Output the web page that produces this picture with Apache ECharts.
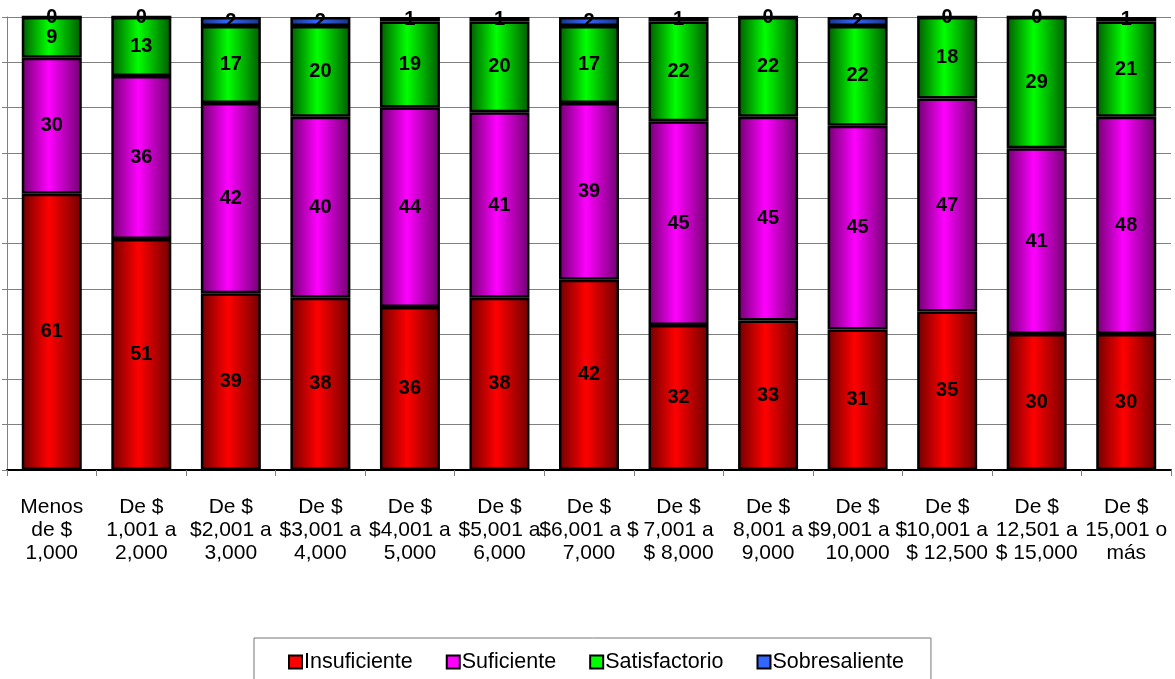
<!DOCTYPE html>
<html>
<head>
<meta charset="utf-8">
<script src="https://cdn.jsdelivr.net/npm/echarts@6/dist/echarts.min.js"></script>
<style>
    html, body { margin: 0; padding: 0; background: #fff; }
    #main { width: 1175px; height: 679px; }
</style>
</head>
<body>
<div id="main"></div>
<script>
    // 分类标签
    const categories = [
        'Menos\nde $\n1,000', 'De $\n1,001 a\n2,000', 'De $\n$2,001 a\n3,000', 'De $\n$3,001 a\n4,000',
        'De $\n$4,001 a\n5,000', 'De $\n$5,001 a\n6,000', 'De $\n$6,001 a $\n7,000', 'De $\n7,001 a\n$ 8,000',
        'De $\n8,001 a\n9,000', 'De $\n$9,001 a $\n10,000', 'De $\n10,001 a\n$ 12,500', 'De $\n12,501 a\n$ 15,000',
        'De $\n15,001 o\nmás'
    ];
    // 各系列数据
    const insuficiente = [61, 51, 39, 38, 36, 38, 42, 32, 33, 31, 35, 30, 30];
    const suficiente = [30, 36, 42, 40, 44, 41, 39, 45, 45, 45, 47, 41, 48];
    const satisfactorio = [9, 13, 17, 20, 19, 20, 17, 22, 22, 22, 18, 29, 21];
    const sobresaliente = [0, 0, 2, 2, 1, 1, 2, 1, 0, 2, 0, 0, 1];
    const seriesNames = ['Insuficiente', 'Suficiente', 'Satisfactorio', 'Sobresaliente'];
    const seriesColors = [
        ['#700000', '#ff0000'],
        ['#700070', '#ff00ff'],
        ['#005a00', '#00ff00'],
        ['#1a3380', '#3366ff']
    ];

    // 横向渐变
    function gradient(pair) {
        return new echarts.graphic.LinearGradient(0, 0, 1, 0, [
            { offset: 0, color: pair[0] },
            { offset: 0.45, color: pair[1] },
            { offset: 1, color: pair[0] }
        ]);
    }

    function makeSeries(name, data, idx) {
        return {
            name: name,
            type: 'bar',
            stack: 'total',
            barWidth: 60,
            data: data,
            itemStyle: {
                color: gradient(seriesColors[idx]),
                borderColor: '#000',
                borderWidth: 2.5
            },
            label: {
                show: true,
                position: 'inside',
                color: '#000',
                fontFamily: 'Arial, Liberation Sans',
                fontWeight: 'bold',
                fontSize: 20
            }
        };
    }

    const allData = [insuficiente, suficiente, satisfactorio, sobresaliente];
    let myChart = echarts.init(document.getElementById('main'));
    myChart.setOption({
        animation: false,
        grid: { left: 7, right: 4, top: 17, bottom: 209 },
        legend: {
            data: seriesNames.map(function(n, i) {
                return { name: n, itemStyle: { color: seriesColors[i][1], borderColor: '#000', borderWidth: 2 } };
            }),
            left: 254,
            top: 638,
            padding: [13, 27, 20, 34],
            borderColor: '#777',
            borderWidth: 1,
            itemGap: 33,
            itemWidth: 13,
            itemHeight: 13,
            icon: 'rect',
            textStyle: { fontFamily: 'Arial, Liberation Sans', fontSize: 21.5, color: '#000', padding: [0, 0, 0, -3] }
        },
        xAxis: {
            type: 'category',
            data: categories,
            axisLine: { lineStyle: { color: '#000', width: 2 } },
            axisTick: { show: true, length: 6, lineStyle: { color: '#808080' } },
            axisLabel: {
                interval: 0,
                margin: 26,
                color: '#000',
                fontFamily: 'Arial, Liberation Sans',
                fontSize: 21,
                lineHeight: 23
            }
        },
        yAxis: {
            type: 'value',
            min: 0,
            max: 100,
            interval: 10,
            axisLabel: { show: false },
            axisLine: { show: true, lineStyle: { color: '#808080' } },
            axisTick: { show: true, length: 5, lineStyle: { color: '#808080' } },
            splitLine: { lineStyle: { color: '#808080' } }
        },
        series: seriesNames.map(function(n, i) { return makeSeries(n, allData[i], i); })
    });
</script>
</body>
</html>
